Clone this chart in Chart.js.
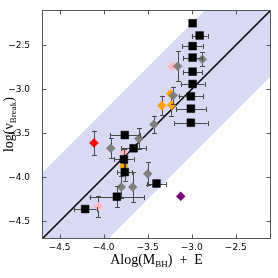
<!DOCTYPE html>
<html>
<head>
<meta charset="utf-8">
<script src="https://cdn.jsdelivr.net/npm/chart.js@4.4.1/dist/chart.umd.min.js"></script>
<style>
  html, body { margin: 0; padding: 0; background: #fff; }
  #chart { display: block; }
</style>
</head>
<body>
<canvas id="chart" width="278" height="278"></canvas>
<script>
// black squares
const squareX    = [-2.99, -2.91, -2.99, -2.99, -2.99, -2.99, -3.01, -3.01, -3.01, -3.76, -3.66, -3.77, -3.76, -3.40, -3.85, -4.21];
const squareY    = [-2.25, -2.39, -2.51, -2.64, -2.80, -2.94, -3.08, -3.22, -3.38, -3.52, -3.67, -3.795, -3.94, -4.07, -4.22, -4.36];
const squareXErr = [0, 0.09, 0.115, 0.11, 0.11, 0.135, 0.14, 0.17, 0.19, 0.17, 0.14, 0.11, 0.085, 0.11, 0.31, 0.13];
const squareYErr = [0, 0, 0, 0, 0, 0, 0, 0, 0, 0, 0, 0.12, 0.1, 0, 0.12, 0];

// grey diamonds
const greyX    = [-2.88, -3.16, -3.21, -3.43, -3.92, -3.60, -3.50, -3.80, -3.67];
const greyY    = [-2.66, -2.74, -3.07, -3.40, -3.67, -3.56, -3.96, -4.11, -4.11];
const greyYErr = [0.08, 0.17, 0.1, 0.1, 0.115, 0.12, 0.13, 0.12, 0.17];

// orange diamonds
const orangeX    = [-3.24, -3.34, -3.23, -3.77];
const orangeY    = [-3.05, -3.185, -3.18, -3.87];
const orangeYErr = [0, 0.11, 0.12, 0];

// pink diamonds
const pinkX    = [-3.22, -3.77, -4.06];
const pinkY    = [-2.74, -3.71, -4.33];
const pinkYErr = [0, 0, 0.12];

// red and purple
const redX = [-4.11], redY = [-3.61], redYErr = [0.14];
const purpleX = [-3.125], purpleY = [-4.215];

// one-to-one line and its band
const lineX = [-4.7, -2.1];
const lineY = [-4.7, -2.1];
const bandUpper = [-3.95, -1.35];
const bandLower = [-5.45, -2.85];

const xTickVals = [-4.5, -4.0, -3.5, -3.0, -2.5];
const xTickLabels = ["−4.5", "−4.0", "−3.5", "−3.0", "−2.5"];
const yTickVals = [-4.5, -4.0, -3.5, -3.0, -2.5];
const yTickLabels = ["−4.5", "−4.0", "−3.5", "−3.0", "−2.5"];

function pts(xs, ys) {
  return xs.map((x, i) => ({ x: x, y: ys[i] }));
}

const errColor = "#4a4a4a";

// error bars drawn just under each dataset's markers
const errorBars = {
  id: "errorBars",
  beforeDatasetDraw(chart, args) {
    const ds = chart.data.datasets[args.index];
    if (!ds.xErr && !ds.yErr) return;
    const xs = chart.scales.x, ys = chart.scales.y, ctx = chart.ctx;
    const cap = 2.5;
    ctx.save();
    ctx.strokeStyle = errColor;
    ctx.lineWidth = 1;
    ds.data.forEach(function (p, k) {
      const px = xs.getPixelForValue(p.x);
      const py = ys.getPixelForValue(p.y);
      const ex = ds.xErr ? ds.xErr[k] : 0;
      const ey = ds.yErr ? ds.yErr[k] : 0;
      ctx.beginPath();
      if (ex) {
        const a = xs.getPixelForValue(p.x - ex), b = xs.getPixelForValue(p.x + ex);
        const yy = Math.round(py) + 0.5;
        ctx.moveTo(a, yy); ctx.lineTo(b, yy);
        ctx.moveTo(Math.round(a) + 0.5, yy - cap); ctx.lineTo(Math.round(a) + 0.5, yy + cap);
        ctx.moveTo(Math.round(b) + 0.5, yy - cap); ctx.lineTo(Math.round(b) + 0.5, yy + cap);
      }
      if (ey) {
        const a = ys.getPixelForValue(p.y - ey), b = ys.getPixelForValue(p.y + ey);
        const xx = Math.round(px) + 0.5;
        ctx.moveTo(xx, a); ctx.lineTo(xx, b);
        ctx.moveTo(xx - cap, Math.round(a) + 0.5); ctx.lineTo(xx + cap, Math.round(a) + 0.5);
        ctx.moveTo(xx - cap, Math.round(b) + 0.5); ctx.lineTo(xx + cap, Math.round(b) + 0.5);
      }
      ctx.stroke();
    });
    ctx.restore();
  }
};

// frame, inward ticks on all sides, axis titles with subscripts
const frame = {
  id: "frame",
  afterDraw(chart) {
    const ctx = chart.ctx, a = chart.chartArea;
    const xs = chart.scales.x, ys = chart.scales.y;
    const L = Math.round(a.left) + 0.5, R = Math.round(a.right) - 0.5;
    const T = Math.round(a.top) + 0.5, B = Math.round(a.bottom) - 0.5;
    ctx.save();
    ctx.strokeStyle = "#555";
    ctx.lineWidth = 1;
    ctx.strokeRect(L, T, R - L, B - T);
    ctx.beginPath();
    xTickVals.forEach(function (v) {
      const x = Math.round(xs.getPixelForValue(v)) + 0.5;
      ctx.moveTo(x, B); ctx.lineTo(x, B - 4);
      ctx.moveTo(x, T); ctx.lineTo(x, T + 4);
    });
    yTickVals.forEach(function (v) {
      const y = Math.round(ys.getPixelForValue(v)) + 0.5;
      ctx.moveTo(L, y); ctx.lineTo(L + 4, y);
      ctx.moveTo(R, y); ctx.lineTo(R - 4, y);
    });
    ctx.stroke();

    ctx.fillStyle = "#000";
    ctx.textBaseline = "alphabetic";
    ctx.textAlign = "left";
    drawParts(ctx, [["Alog(M", 0], ["BH", 1], [")  +  E", 0]], (a.left + a.right) / 2, 264);
    ctx.translate(13, (a.top + a.bottom) / 2);
    ctx.rotate(-Math.PI / 2);
    drawParts(ctx, [["log(ν", 0], ["Break", 1], [")", 0]], 0, 0);
    ctx.restore();
  }
};

function drawParts(ctx, parts, cx, baseY) {
  const big = "14px 'Liberation Serif'", small = "9px 'Liberation Serif'";
  let w = 0;
  parts.forEach(function (p) {
    ctx.font = p[1] ? small : big;
    w += ctx.measureText(p[0]).width;
  });
  let x = cx - w / 2;
  parts.forEach(function (p) {
    ctx.font = p[1] ? small : big;
    ctx.fillText(p[0], x, baseY + (p[1] ? 3 : 0));
    x += ctx.measureText(p[0]).width;
  });
}

Chart.defaults.font.family = "'DejaVu Sans'";
Chart.defaults.font.size = 9;
Chart.defaults.color = "#000";

const diamond = function (label, xs, ys, yErr, color, order) {
  return {
    label: label,
    data: pts(xs, ys),
    yErr: yErr,
    pointStyle: "rectRot",
    pointRadius: 4.5,
    pointBackgroundColor: color,
    pointBorderColor: color,
    pointBorderWidth: 0.5,
    showLine: false,
    order: order
  };
};

new Chart(document.getElementById("chart"), {
  type: "scatter",
  data: {
    datasets: [
      {
        label: "band upper",
        type: "line",
        data: pts(lineX, bandUpper),
        borderWidth: 0,
        pointRadius: 0,
        backgroundColor: "rgb(217,217,244)",
        fill: "+1",
        order: 20
      },
      {
        label: "band lower",
        type: "line",
        data: pts(lineX, bandLower),
        borderWidth: 0,
        pointRadius: 0,
        fill: false,
        order: 21
      },
      {
        label: "one to one",
        type: "line",
        data: pts(lineX, lineY),
        borderColor: "#000",
        borderWidth: 1.5,
        pointRadius: 0,
        fill: false,
        order: 15
      },
      diamond("pink", pinkX, pinkY, pinkYErr, "#ffb6c1", 8),
      diamond("orange", orangeX, orangeY, orangeYErr, "#ffa500", 7),
      diamond("grey", greyX, greyY, greyYErr, "#7f7f7f", 6),
      {
        label: "black",
        data: pts(squareX, squareY),
        xErr: squareXErr,
        yErr: squareYErr,
        pointStyle: "rect",
        pointRadius: 5.5,
        pointBackgroundColor: "#000",
        pointBorderColor: "#000",
        pointBorderWidth: 0.5,
        order: 5
      },
      diamond("red", redX, redY, redYErr, "#ff0000", 4),
      diamond("purple", purpleX, purpleY, null, "#800080", 3)
    ]
  },
  options: {
    responsive: false,
    animation: false,
    devicePixelRatio: 1,
    layout: { padding: { left: 0, top: 10, right: 7, bottom: 0 } },
    plugins: {
      legend: { display: false },
      tooltip: { enabled: false }
    },
    scales: {
      x: {
        type: "linear",
        min: -4.7,
        max: -2.1,
        grid: { display: false },
        border: { display: false },
        afterBuildTicks: function (scale) {
          scale.ticks = xTickVals.map(v => ({ value: v }));
        },
        afterFit: function (scale) { scale.height = 39; },
        ticks: {
          padding: -5,
          maxRotation: 0,
          callback: function (v, i) { return xTickLabels[i]; }
        }
      },
      y: {
        type: "linear",
        min: -4.7,
        max: -2.1,
        grid: { display: false },
        border: { display: false },
        afterBuildTicks: function (scale) {
          scale.ticks = yTickVals.map(v => ({ value: v }));
        },
        afterFit: function (scale) { scale.width = 42; },
        ticks: {
          padding: 4,
          callback: function (v, i) { return yTickLabels[i]; }
        }
      }
    }
  },
  plugins: [errorBars, frame]
});
</script>
</body>
</html>
